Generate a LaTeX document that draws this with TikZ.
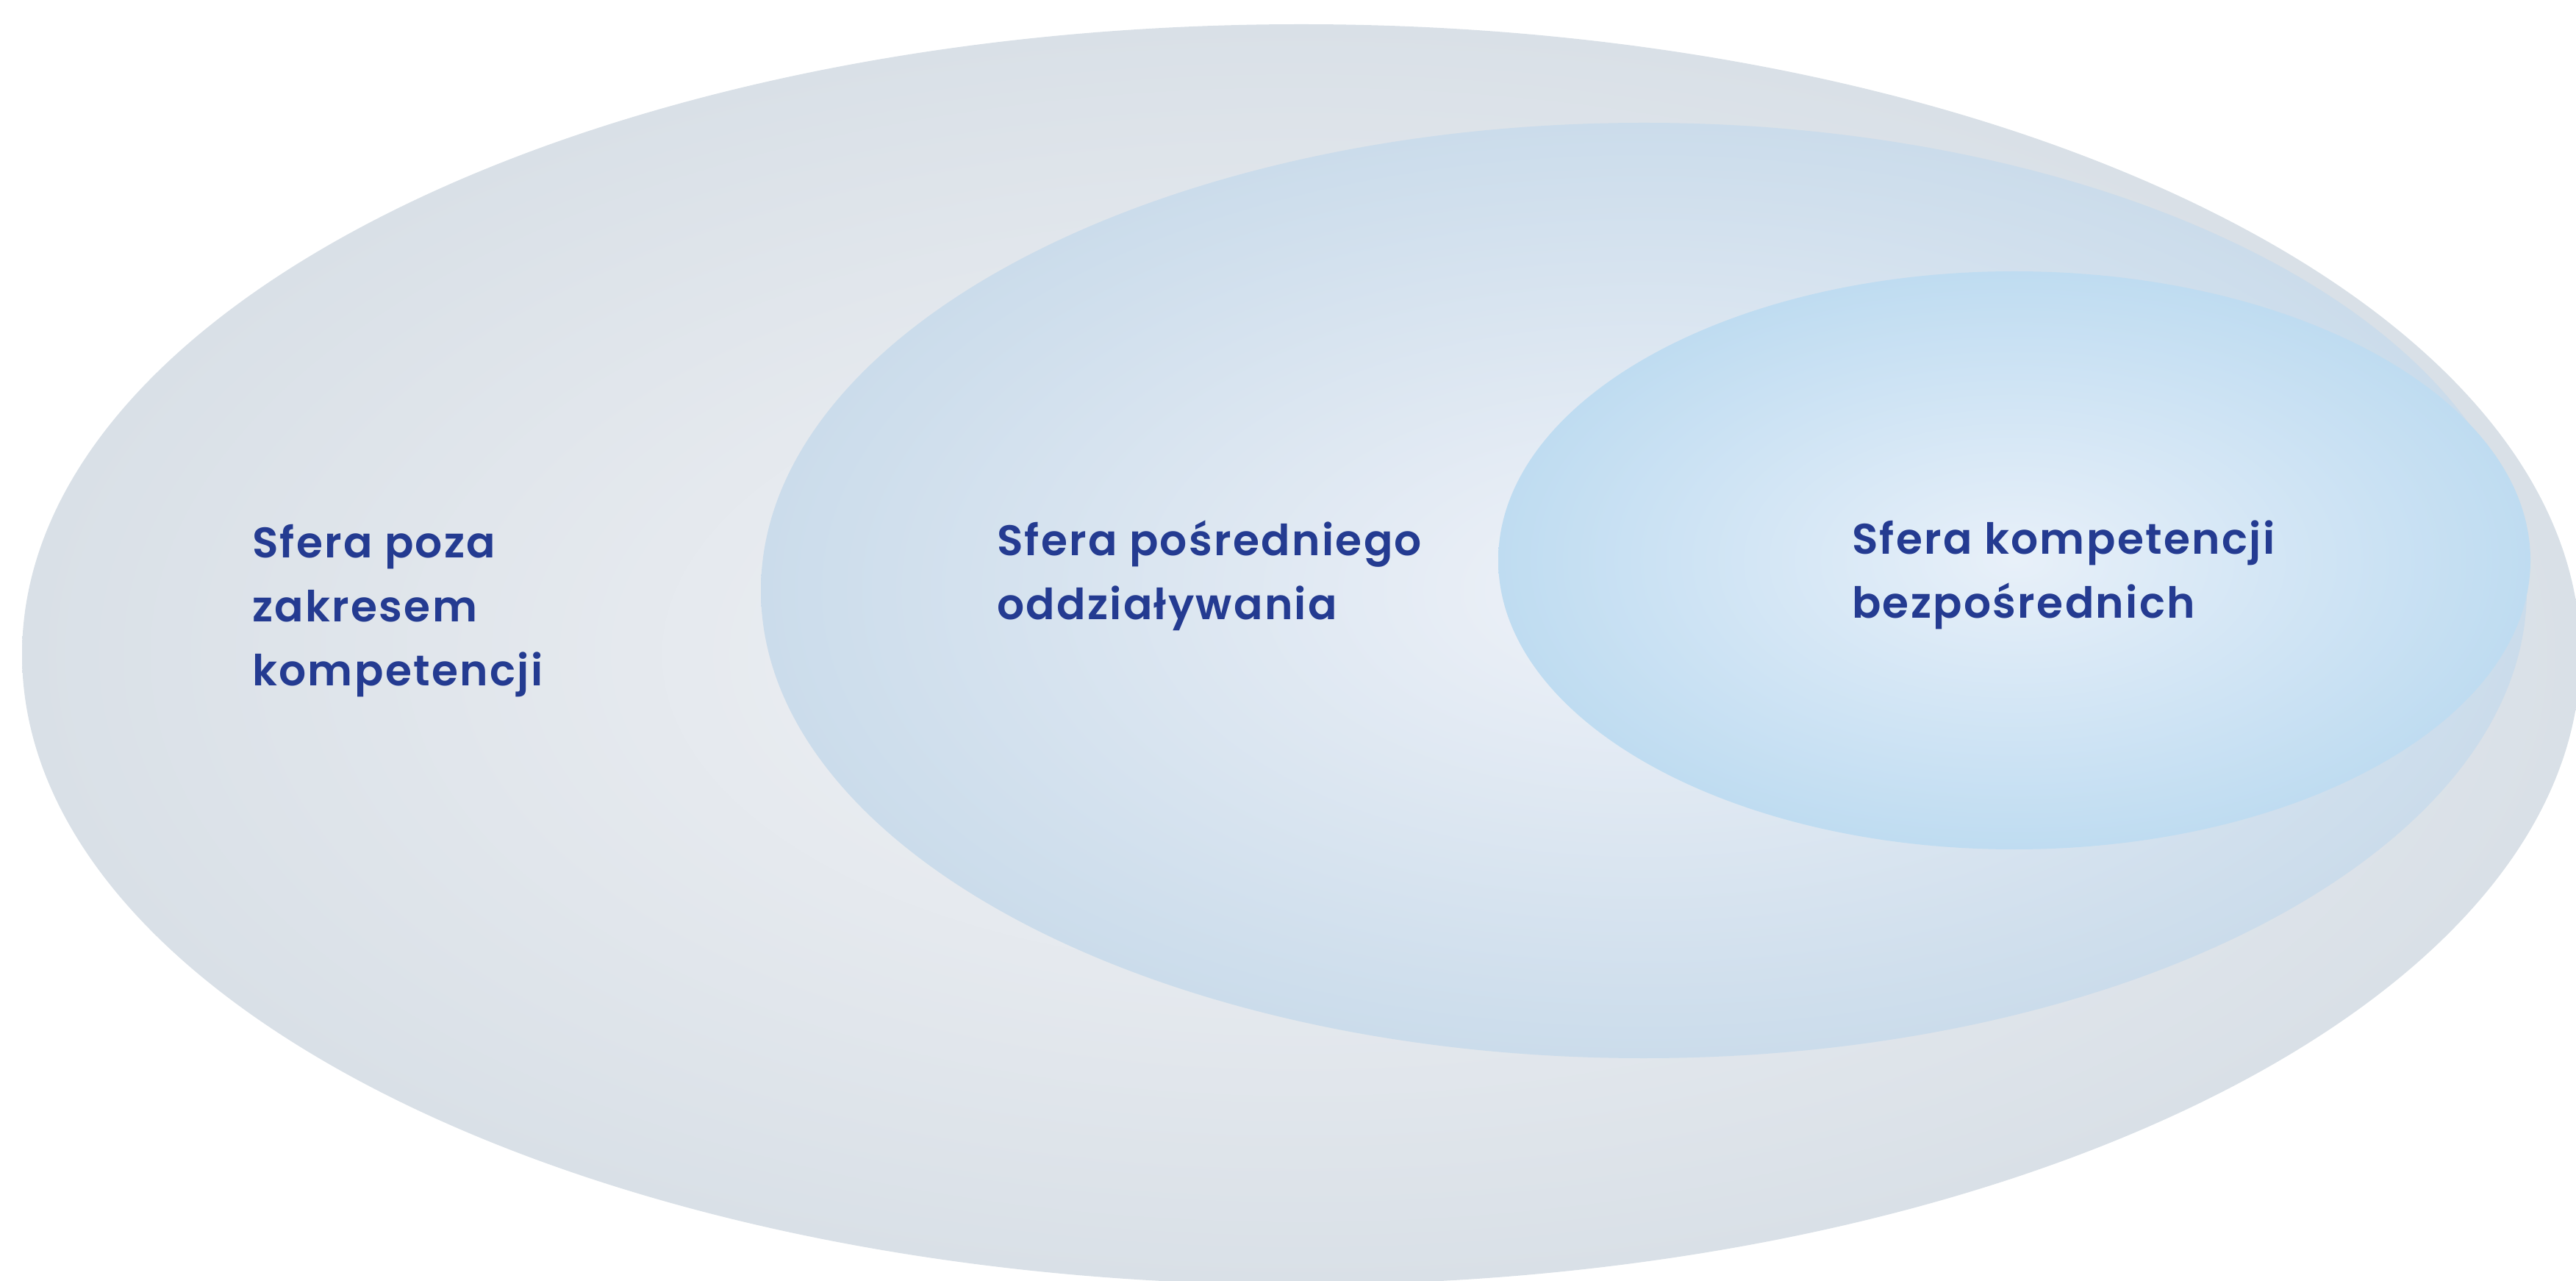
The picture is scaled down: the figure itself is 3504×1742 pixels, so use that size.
\documentclass[tikz,border=0pt]{standalone}
\usepackage{fontspec}
\setmainfont{Poppins}[BoldFont={Poppins SemiBold}, LetterSpace=4]
\definecolor{sferablue}{RGB}{36,59,145}
\definecolor{outerlight}{RGB}{242,243,246}
\definecolor{outerdark}{RGB}{217,224,231}
\definecolor{midlight}{RGB}{239,242,248}
\definecolor{middark}{RGB}{203,220,235}
\definecolor{innerlight}{RGB}{232,240,249}
\definecolor{innerdark}{RGB}{191,220,241}
\begin{document}
\begin{tikzpicture}[x=0.2pt, y=0.2pt, yscale=-1,
  sfera/.style={font=\fontsize{11.65}{17.3}\selectfont\bfseries, text=sferablue,
    inner sep=0pt, outer sep=0pt, anchor=base west}]
  \clip (0,0) rectangle (3504,1742);
  % spheres, from the widest one
  \path[shade, inner color=outerlight, outer color=outerdark]
    (1770,890) ellipse [x radius=1740, y radius=857];
  \path[shade, inner color=midlight, outer color=middark]
    (2236,803) ellipse [x radius=1201, y radius=636];
  \path[shade, inner color=innerlight, outer color=innerdark]
    (2740,762) ellipse [x radius=702, y radius=393];
  % labels
  \node[sfera] (poza) at (343,759)
    {\begin{tabular}[t]{@{}l@{}}Sfera poza\\zakresem\\kompetencji\end{tabular}};
  \node[sfera] (posrednia) at (1356,756)
    {\begin{tabular}[t]{@{}l@{}}Sfera pośredniego\\oddziaływania\end{tabular}};
  \node[sfera] (bezposrednia) at (2519,754)
    {\begin{tabular}[t]{@{}l@{}}Sfera kompetencji\\bezpośrednich\end{tabular}};
\end{tikzpicture}
\end{document}
